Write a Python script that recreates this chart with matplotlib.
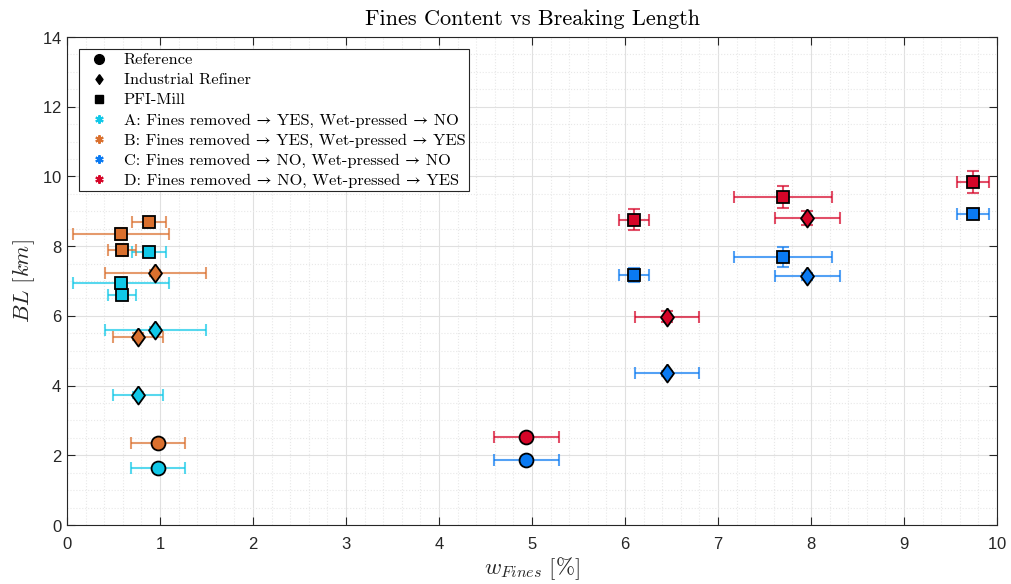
import numpy as np
import matplotlib
matplotlib.use('Agg')
from matplotlib import pyplot as plt
from matplotlib.lines import Line2D
from matplotlib.ticker import MultipleLocator

plt.rcParams['mathtext.fontset'] = 'cm'
plt.rcParams['axes.formatter.use_mathtext'] = True

# Fines content (x) and breaking length (y) per group and refining method
# A: fines removed, not wet-pressed
a_ref_x, a_ref_y, a_ref_xerr, a_ref_yerr = [0.98], [1.63], [0.29], [0.0]
a_ind_x = [0.76, 0.95]
a_ind_y = [3.73, 5.59]
a_ind_xerr = [0.27, 0.54]
a_ind_yerr = [0.08, 0.08]
a_pfi_x = [0.59, 0.58, 0.88]
a_pfi_y = [6.60, 6.94, 7.84]
a_pfi_xerr = [0.15, 0.52, 0.18]
a_pfi_yerr = [0.15, 0.15, 0.15]

# B: fines removed, wet-pressed
b_ref_x, b_ref_y, b_ref_xerr, b_ref_yerr = [0.98], [2.35], [0.29], [0.0]
b_ind_x = [0.76, 0.95]
b_ind_y = [5.40, 7.23]
b_ind_xerr = [0.27, 0.54]
b_ind_yerr = [0.1, 0.1]
b_pfi_x = [0.59, 0.58, 0.88]
b_pfi_y = [7.89, 8.35, 8.70]
b_pfi_xerr = [0.15, 0.52, 0.18]
b_pfi_yerr = [0.18, 0.18, 0.13]

# C: fines kept, not wet-pressed
c_ref_x, c_ref_y, c_ref_xerr, c_ref_yerr = [4.94], [1.86], [0.35], [0.0]
c_ind_x = [6.45, 7.96]
c_ind_y = [4.35, 7.13]
c_ind_xerr = [0.345, 0.35]
c_ind_yerr = [0.08, 0.1]
c_pfi_x = [6.10, 7.70, 9.74]
c_pfi_y = [7.17, 7.70, 8.93]
c_pfi_xerr = [0.16, 0.53, 0.17]
c_pfi_yerr = [0.21, 0.29, 0.1]

# D: fines kept, wet-pressed
d_ref_x, d_ref_y, d_ref_xerr, d_ref_yerr = [4.94], [2.53], [0.35], [0.0]
d_ind_x = [6.45, 7.96]
d_ind_y = [5.98, 8.81]
d_ind_xerr = [0.345, 0.35]
d_ind_yerr = [0.15, 0.2]
d_pfi_x = [6.10, 7.70, 9.74]
d_pfi_y = [8.76, 9.42, 9.84]
d_pfi_xerr = [0.16, 0.53, 0.17]
d_pfi_yerr = [0.3, 0.32, 0.32]

group_labels = ['A: Fines removed \u2192 YES, Wet-pressed \u2192 NO',
                'B: Fines removed \u2192 YES, Wet-pressed \u2192 YES',
                'C: Fines removed \u2192 NO, Wet-pressed \u2192 NO',
                'D: Fines removed \u2192 NO, Wet-pressed \u2192 YES']
group_colors = ['#10C8E8', '#DA702E', '#0A7AF2', '#D60528']
method_labels = ['Reference', 'Industrial Refiner', 'PFI-Mill']

# MATLAB-style diamond (taller than wide)
diamond = [(0, 1), (0.72, 0), (0, -1), (-0.72, 0), (0, 1)]
method_markers = ['o', diamond, 's']
method_sizes = [10, 13, 8.5]

groups = [
    [(a_ref_x, a_ref_y, a_ref_xerr, a_ref_yerr),
     (a_ind_x, a_ind_y, a_ind_xerr, a_ind_yerr),
     (a_pfi_x, a_pfi_y, a_pfi_xerr, a_pfi_yerr)],
    [(b_ref_x, b_ref_y, b_ref_xerr, b_ref_yerr),
     (b_ind_x, b_ind_y, b_ind_xerr, b_ind_yerr),
     (b_pfi_x, b_pfi_y, b_pfi_xerr, b_pfi_yerr)],
    [(c_ref_x, c_ref_y, c_ref_xerr, c_ref_yerr),
     (c_ind_x, c_ind_y, c_ind_xerr, c_ind_yerr),
     (c_pfi_x, c_pfi_y, c_pfi_xerr, c_pfi_yerr)],
    [(d_ref_x, d_ref_y, d_ref_xerr, d_ref_yerr),
     (d_ind_x, d_ind_y, d_ind_xerr, d_ind_yerr),
     (d_pfi_x, d_pfi_y, d_pfi_xerr, d_pfi_yerr)],
]

fig = plt.figure(figsize=(10.12, 5.84), dpi=100)
ax = fig.add_axes([0.0662, 0.101, 0.919, 0.8356])

for color, series in zip(group_colors, groups):
    for (x, y, xerr, yerr), mk, ms in zip(series, method_markers, method_sizes):
        yerr_arg = yerr if max(yerr) > 0 else None
        ax.errorbar(x, y, xerr=xerr, yerr=yerr_arg, fmt='none', ecolor=color,
                    alpha=0.7, elinewidth=1.5, capsize=4, capthick=1.5, zorder=3)
        ax.plot(x, y, linestyle='none', marker=mk, markersize=ms,
                markerfacecolor=color, markeredgecolor='black',
                markeredgewidth=1.3, zorder=4)

ax.set_xlim(0, 10)
ax.set_ylim(0, 14)
ax.xaxis.set_major_locator(MultipleLocator(1))
ax.xaxis.set_minor_locator(MultipleLocator(0.2))
ax.yaxis.set_major_locator(MultipleLocator(2))
ax.yaxis.set_minor_locator(MultipleLocator(0.5))
ax.grid(which='major', color='#e0e0e0', linewidth=0.8)
ax.grid(which='minor', color='#e8e8e8', linestyle=':', linewidth=0.8)
ax.set_axisbelow(True)
ax.tick_params(which='both', direction='in', top=True, right=True,
               colors='#262626', labelsize=12)
ax.tick_params(which='major', length=6, width=0.8)
ax.tick_params(axis='x', which='major', pad=8)
ax.tick_params(which='minor', length=0)
for lbl in ax.get_xticklabels() + ax.get_yticklabels():
    lbl.set_fontfamily('Liberation Sans')
for side in ax.spines.values():
    side.set_color('#262626')
    side.set_linewidth(0.8)

ax.set_title('Fines Content vs Breaking Length', family='cmr10', fontsize=16, pad=9)
ax.set_xlabel(r'$w_{Fines}\ [\%]$', fontsize=16.5, color='#262626', labelpad=2)
ax.set_ylabel(r'$BL\ [km]$', fontsize=16.5, color='#262626', labelpad=4)

handles = []
for mk, lab in zip(method_markers, method_labels):
    handles.append(Line2D([], [], linestyle='none', marker=mk, color='black',
                          markersize=7 if mk != 's' else 6, label=lab))
for color, lab in zip(group_colors, group_labels):
    handles.append(Line2D([], [], linestyle='none', marker=(6, 2, 0), color=color,
                          markersize=6, markeredgewidth=1.5, label=lab))
leg = ax.legend(handles=handles, loc='upper left', fancybox=False, framealpha=1,
                edgecolor='#262626', prop={'family': ['cmr10', 'STIXGeneral'], 'size': 11.8},
                borderaxespad=0.75, handletextpad=0.5, labelspacing=0.34,
                borderpad=0.22, handlelength=2)
leg.get_frame().set_linewidth(0.8)

fig.savefig('out.png', dpi=100)
